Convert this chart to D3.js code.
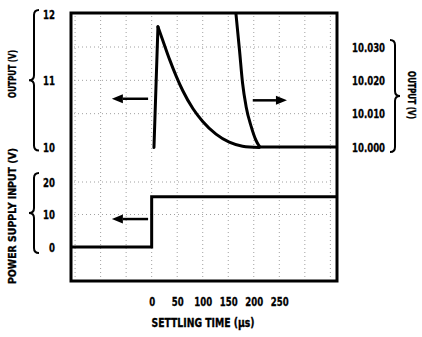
<!DOCTYPE html>
<html><head><meta charset="utf-8">
<script src="https://cdn.jsdelivr.net/npm/d3@7"></script>
<style>
html,body{margin:0;padding:0;background:#fff;}
svg text{font-family:"DejaVu Sans",sans-serif;font-weight:bold;fill:#000;stroke:#000;stroke-width:0.35px;}
</style></head>
<body><svg id="c" width="422" height="337"></svg>
<script>
// ---- data ----
const xTicks = [0, 50, 100, 150, 200, 250];
const outLeftTicks = [10, 11, 12];
const outRightTicks = [10.000, 10.010, 10.020, 10.030];
const psTicks = [0, 10, 20];
const gridTimes = [-150, -100, -50, 0, 50, 100, 150, 200, 250, 300, 350];

// output (coarse scale, V) vs time (µs): rising edge then decay
const riseTime = [4.5, 12.3];
const riseVolt = [10.0, 11.81];
const outTime = [12.3, 22, 35, 48, 61, 81, 100, 126, 152, 178, 211];
const outVolt = [11.81, 11.60, 11.32, 11.07, 10.85, 10.58, 10.39, 10.20, 10.08, 10.02, 10.0];
// output (fine scale, V) vs time (µs)
const fineTime = [165, 172, 178, 185, 195, 204, 214, 363];
const fineVolt = [10.0401, 10.0291, 10.0192, 10.0121, 10.0061, 10.0021, 10.000, 10.000];
// power supply input (V)
const psTime = [-158, 0, 0, 363];
const psVolt = [0, 0, 15.5, 15.5];

const svg = d3.select("#c");
const L = 71, R = 337, T = 13, B = 281;
const x = d3.scaleLinear().domain([-158, 363]).range([L, R]);
const yOut = d3.scaleLinear().domain([10, 12]).range([147.5, 14]);
const yFine = d3.scaleLinear().domain([10.000, 10.030]).range([147, 47]);
const yPS = d3.scaleLinear().domain([0, 20]).range([247, 182]);

// grid (faint dotted, like the scanned original)
const grid = svg.append("g").attr("stroke", "#a0a0a0").attr("stroke-width", 1).attr("stroke-dasharray", "1 3");
gridTimes.forEach(t => grid.append("line").attr("x1", x(t)).attr("x2", x(t)).attr("y1", T + 3).attr("y2", B - 3));
outRightTicks.slice(1).forEach(v => grid.append("line").attr("x1", L + 3).attr("x2", R - 3).attr("y1", yFine(v)).attr("y2", yFine(v)));
psTicks.slice(1).forEach(v => grid.append("line").attr("x1", L + 3).attr("x2", R - 3).attr("y1", yPS(v)).attr("y2", yPS(v)));

svg.append("clipPath").attr("id", "clip").append("rect").attr("x", L).attr("y", T).attr("width", R - L).attr("height", B - T);

const g = svg.append("g").attr("clip-path", "url(#clip)").attr("fill", "none").attr("stroke", "#000").attr("stroke-width", 3).attr("stroke-linejoin", "round").attr("stroke-linecap", "round");
const pts = (ts, vs) => ts.map((t, i) => [t, vs[i]]);
g.append("path").attr("d", d3.line().x(d => x(d[0])).y(d => yOut(d[1]))(pts(riseTime, riseVolt)));
g.append("path").attr("d", d3.line().x(d => x(d[0])).y(d => yOut(d[1])).curve(d3.curveMonotoneX)(pts(outTime, outVolt)));
g.append("path").attr("d", d3.line().x(d => x(d[0])).y(d => yFine(d[1])).curve(d3.curveMonotoneX)(pts(fineTime, fineVolt)));
g.append("path").attr("stroke-linejoin", "miter").attr("stroke-linecap", "butt").attr("d", d3.line().x(d => x(d[0])).y(d => yPS(d[1]))(pts(psTime, psVolt)));

// frame
svg.append("rect").attr("x", L).attr("y", T).attr("width", R - L).attr("height", B - T)
  .attr("fill", "none").attr("stroke", "#000").attr("stroke-width", 3);

// arrows
function arrow(x1, y1, x2, y2) {
  const ang = Math.atan2(y2 - y1, x2 - x1), len = 11, hw = 4.5;
  const bx = x2 - len * Math.cos(ang), by = y2 - len * Math.sin(ang);
  svg.append("line").attr("x1", x1).attr("y1", y1).attr("x2", bx).attr("y2", by).attr("stroke", "#000").attr("stroke-width", 2.5);
  svg.append("path").attr("fill", "#000").attr("d",
    `M${x2},${y2}L${bx - hw * Math.sin(ang)},${by + hw * Math.cos(ang)}L${bx + hw * Math.sin(ang)},${by - hw * Math.cos(ang)}Z`);
}
arrow(x(-7), yOut(10.73), x(-78), yOut(10.73));
arrow(x(-7), yPS(8.6), x(-78), yPS(8.6));
arrow(x(198), yFine(10.014), x(265), yFine(10.014));

// axes (condensed bold lettering via horizontal scaling)
const SX = 0.66;
function styleAxis(sel) {
  sel.select(".domain").remove(); sel.selectAll(".tick line").remove();
  sel.attr("font-family", null).attr("font-size", null);
  sel.selectAll("text").attr("font-size", 13).each(function () {
    const t = d3.select(this); const xv = +t.attr("x") || 0;
    t.attr("x", xv / SX).attr("transform", `scale(${SX},1)`);
  });
}
svg.append("g").attr("transform", `translate(${L},0)`).call(d3.axisLeft(yOut).tickValues(outLeftTicks).tickFormat(d3.format("d")).tickSize(0).tickPadding(16)).call(styleAxis);
svg.append("g").attr("transform", `translate(${L},0)`).call(d3.axisLeft(yPS).tickValues(psTicks).tickFormat(d3.format("d")).tickSize(0).tickPadding(16)).call(styleAxis);
svg.append("g").attr("transform", `translate(${R},0)`).call(d3.axisRight(yFine).tickValues(outRightTicks).tickFormat(d3.format(".3f")).tickSize(0).tickPadding(15)).call(styleAxis);
svg.append("g").attr("transform", `translate(0,${B})`).call(d3.axisBottom(x).tickValues(xTicks).tickFormat(d3.format("d")).tickSize(0).tickPadding(16)).call(styleAxis);

// braces
function brace(xs, y0, y1, dir) { // dir=-1 tip points left, +1 tip points right
  const r = 5, ym = (y0 + y1) / 2, e = -dir * r, t = dir * r;
  const p = `M${xs + e},${y0}Q${xs},${y0} ${xs},${y0 + r}L${xs},${ym - r}Q${xs},${ym} ${xs + t},${ym}Q${xs},${ym} ${xs},${ym + r}L${xs},${y1 - r}Q${xs},${y1} ${xs + e},${y1}`;
  svg.append("path").attr("d", p).attr("fill", "none").attr("stroke", "#000").attr("stroke-width", 2);
}
brace(34, yOut(12) - 4, yOut(10) + 3, -1);
brace(34, yPS(20) - 9, yPS(0) + 6, -1);
brace(395, yFine(10.030) - 7, yFine(10.000) + 5, 1);

// titles
function title(tx, ty, rot, len, size, str) {
  svg.append("text").attr("transform", `translate(${tx},${ty}) rotate(${rot})`).attr("text-anchor", "middle")
    .attr("dy", "0.35em").attr("font-size", size).attr("textLength", len).attr("lengthAdjust", "spacingAndGlyphs").text(str);
}
title(12, 74, -90, 48, 11, "OUTPUT (V)");
title(12, 216, -90, 136, 11, "POWER SUPPLY INPUT (V)");
title(412, 95, 90, 48, 11, "OUTPUT (V)");
title(203, 323, 0, 103, 11.5, "SETTLING TIME (µs)");
</script></body></html>
